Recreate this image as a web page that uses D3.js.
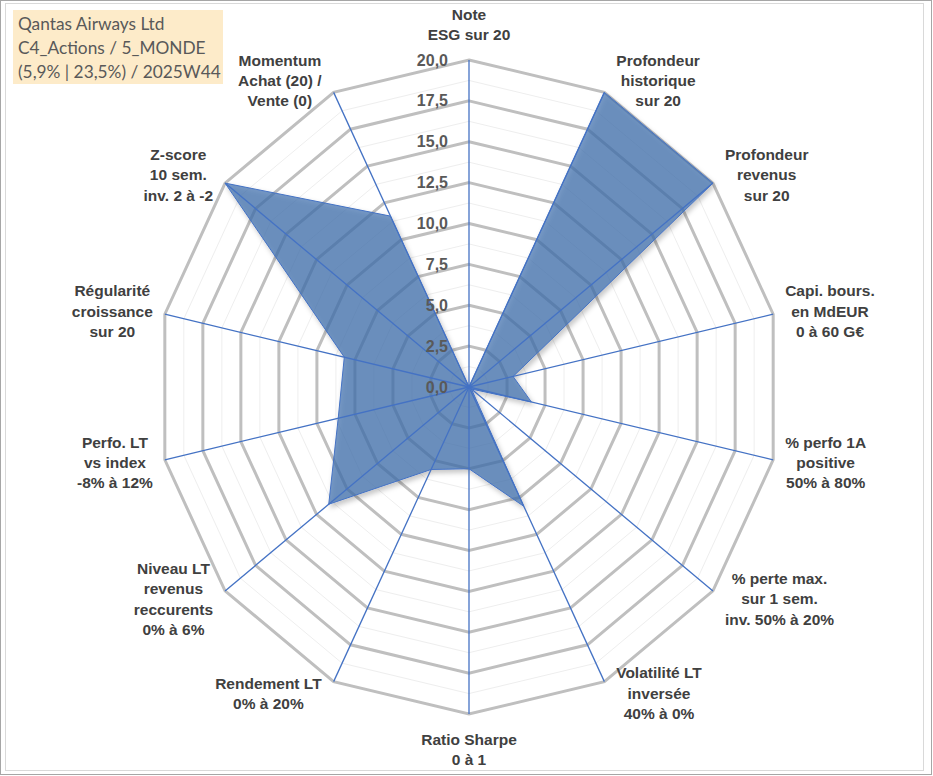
<!DOCTYPE html>
<html>
<head>
<meta charset="utf-8">
<script src="https://cdn.jsdelivr.net/npm/d3@7"></script>
<style>
  body { margin: 0; background: #fff; }
  svg text { font-family: "Liberation Sans", Arial, sans-serif; }
</style>
</head>
<body>
<svg id="chart" width="933" height="776"></svg>
<script>
// axis labels, clockwise from the top
const categories = [
  ["Note", "ESG sur 20"],
  ["Profondeur", "historique", "sur 20"],
  ["Profondeur", "revenus", "sur 20"],
  ["Capi. bours.", "en MdEUR", "0 à 60 G€"],
  ["% perfo 1A", "positive", "50% à 80%"],
  ["% perte max.", "sur 1 sem.", "inv. 50% à 20%"],
  ["Volatilité LT", "inversée", "40% à 0%"],
  ["Ratio Sharpe", "0 à 1"],
  ["Rendement LT", "0% à 20%"],
  ["Niveau LT", "revenus", "reccurents", "0% à 6%"],
  ["Perfo. LT", "vs index", "-8% à 12%"],
  ["Régularité", "croissance", "sur 20"],
  ["Z-score", "10 sem.", "inv. 2 à -2"],
  ["Momentum", "Achat (20) /", "Vente (0)"]
];
const scores = [0, 20, 20, 2.9, 4.1, 0.2, 8.1, 5.0, 5.6, 11.5, 8.6, 8.2, 20, 11.6];
const majorTicks = [0, 2.5, 5, 7.5, 10, 12.5, 15, 17.5, 20];
const minorTicks = [1.25, 3.75, 6.25, 8.75, 11.25, 13.75, 16.25, 18.75];
const titleLines = ["Qantas Airways Ltd", "C4_Actions / 5_MONDE", "(5,9% | 23,5%) / 2025W44"];

const svg = d3.select("#chart");
const cx = 469, cy = 387;
const n = categories.length;

// the plot is slightly squashed horizontally, like the original
let rX = d3.scaleLinear().domain([0, 20]).range([0, 312]);
let rY = d3.scaleLinear().domain([0, 20]).range([0, 327]);
let angle = d3.scaleLinear().domain([0, n]).range([0, 2 * Math.PI]);

const fr = d3.formatLocale({decimal: ",", thousands: " ", grouping: [3], currency: ["", " €"]});
const fmt = fr.format(".1f");

function pt(i, v) {
  let a = angle(i);
  return [cx + Math.sin(a) * rX(v), cy - Math.cos(a) * rY(v)];
}

// frame
svg.append("rect").attr("x", 0.5).attr("y", 0.5).attr("width", 931).attr("height", 774)
  .attr("fill", "#fff").attr("stroke", "#a6a6a6");
svg.append("rect").attr("x", 5.5).attr("y", 3.5).attr("width", 918).attr("height", 767)
  .attr("fill", "none").attr("stroke", "#d9d9d9");

let defs = svg.append("defs");
let f = defs.append("filter").attr("id", "shadow").attr("x", "-10%").attr("y", "-10%")
  .attr("width", "130%").attr("height", "130%");
f.append("feDropShadow").attr("dx", 2).attr("dy", 3).attr("stdDeviation", 2.5)
  .attr("flood-color", "#000").attr("flood-opacity", 0.3);

let ring = (v) => d3.range(n).map(i => pt(i, v));
let line = d3.line().curve(d3.curveLinearClosed);

let grid = svg.append("g");
grid.selectAll(".minor").data(minorTicks).enter().append("path")
  .attr("d", d => line(ring(d)))
  .attr("fill", "none").attr("stroke", "#eeeeee").attr("stroke-width", 1);
grid.selectAll(".major").data(majorTicks.slice(1)).enter().append("path")
  .attr("d", d => line(ring(d)))
  .attr("fill", "none").attr("stroke", "#bfbfbf").attr("stroke-width", 3)
  .attr("stroke-linejoin", "miter");

// series
svg.append("path")
  .datum(scores)
  .attr("d", d => line(d.map((v, i) => pt(i, v))))
  .attr("fill", "#3e6fae").attr("fill-opacity", 0.7)
  .attr("stroke", "#4472c4").attr("stroke-width", 1)
  .attr("filter", "url(#shadow)");

// spokes
svg.append("g").selectAll("line").data(categories).enter().append("line")
  .attr("x1", cx).attr("y1", cy)
  .attr("x2", (d, i) => pt(i, 20)[0])
  .attr("y2", (d, i) => pt(i, 20)[1])
  .attr("stroke", "#4472c4").attr("stroke-width", 1.3);

// value labels along the top spoke
svg.append("g").selectAll("text").data(majorTicks).enter().append("text")
  .attr("x", cx - 21)
  .attr("y", d => cy - rY(d))
  .attr("dy", "0.35em")
  .attr("text-anchor", "end")
  .attr("font-size", 16).attr("font-weight", "bold").attr("fill", "#595959")
  .text(d => fmt(d));

// category labels
const lh = 20.3;
let labs = svg.append("g").selectAll("text").data(categories).enter().append("text")
  .attr("font-size", 15.5).attr("font-weight", "bold").attr("fill", "#404040")
  .attr("text-anchor", "middle");
labs.each(function(lines, i) {
  let t = d3.select(this);
  lines.forEach((s, k) => t.append("tspan").text(s));
  let a = angle(i), s = Math.sin(a), c = Math.cos(a);
  let w = d3.max(t.selectAll("tspan").nodes(), nd => nd.getComputedTextLength());
  let h = lines.length * lh;
  let end = pt(i, 20);
  let x, y;
  if (Math.abs(s) < 0.01) {
    x = end[0];
    y = end[1] - c * (h / 2 + 15);
  } else {
    x = end[0] + Math.sign(s) * (12 + w / 2);
    y = cy - c * (rY(20) + 13);
  }
  t.selectAll("tspan")
    .attr("x", x)
    .attr("y", (d, k) => y - h / 2 + lh * (k + 0.5))
    .attr("dy", "0.35em");
});

// title box
svg.append("rect").attr("x", 13).attr("y", 10).attr("width", 210).attr("height", 74)
  .attr("fill", "#fdebc9");
svg.append("g").selectAll("text").data(titleLines).enter().append("text")
  .attr("x", 18)
  .attr("y", (d, i) => 24 + i * 24)
  .attr("dy", "0.35em")
  .attr("font-size", 17.3).attr("fill", "#595959")
  .style("font-family", "Lato, 'Open Sans', sans-serif")
  .text(d => d);
</script>
</body>
</html>
